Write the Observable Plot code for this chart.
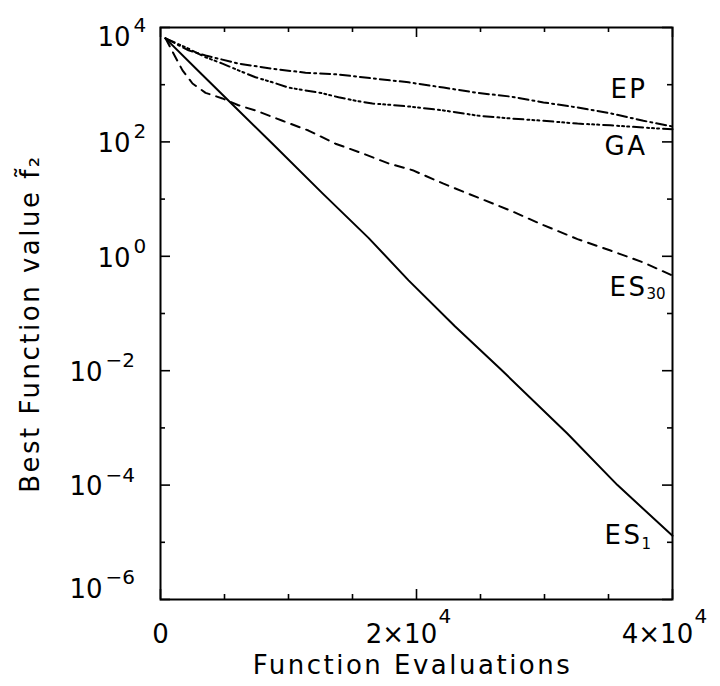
<!DOCTYPE html>
<html><head><meta charset="utf-8">
<script src="https://cdn.jsdelivr.net/npm/d3@7"></script>
<script src="https://cdn.jsdelivr.net/npm/@observablehq/plot@0.6"></script>
<style>
html,body{margin:0;padding:0;background:#fff;}
#chart svg{display:block;}
#chart svg g[aria-label="text"] text{letter-spacing:2.5px;}
#chart svg g[aria-label="text"][font-size="15"] text{letter-spacing:0;}
</style></head><body><div id="chart"></div>
<script>
// ---- data ----
const es1X = [390, 3000, 5860, 8750, 12660, 16250, 19380, 23000, 26560, 31800, 35700, 40000];
const es1Y = [6460, 1700, 400, 93, 12.6, 2.1, 0.38, 0.060, 0.0107, 7.9e-4, 1.0e-4, 1.3e-5];

const es30X = [390, 1170, 1720, 2500, 3520, 4840, 6090, 7420, 9530, 11560, 13670, 15780, 17810, 19690, 22110, 24770, 27340, 29920, 32580, 35160, 37730, 40000];
const es30Y = [6460, 3020, 1780, 1050, 720, 575, 437, 355, 234, 158, 93, 63, 42, 32, 18.6, 10.7, 6.3, 3.5, 2.0, 1.26, 0.78, 0.46];

const epX = [390, 2190, 3520, 6090, 8750, 11330, 13910, 16560, 19380, 22110, 24770, 27340, 29920, 32580, 35160, 37730, 40000];
const epY = [6460, 3980, 3240, 2340, 1900, 1620, 1510, 1290, 1100, 890, 720, 620, 490, 400, 316, 234, 186];

const gaX = [390, 2190, 3520, 4840, 6090, 7420, 8750, 10000, 11330, 12660, 13910, 15230, 16560, 17810, 19380, 22110, 24770, 27340, 29920, 32580, 35160, 37730, 40000];
const gaY = [6460, 4270, 3020, 2340, 1780, 1350, 1100, 890, 794, 708, 603, 525, 468, 447, 417, 355, 288, 257, 234, 209, 195, 178, 166];

const seriesNames = ["EP", "GA", "ES30", "ES1"];
const labelMain = ["EP", "GA", "ES", "ES"];
const labelSub = ["", "", "30", "1"];

const yMajorTicks = [1e4, 1e2, 1e0, 1e-2, 1e-4, 1e-6];
const yMinorTicks = [1e3, 1e1, 1e-1, 1e-3, 1e-5];
const xMajorTicks = [0, 20000, 40000];
const xMinorTicks = [5000, 10000, 15000, 25000, 30000, 35000];

const xTitle = "Function Evaluations";
const yTitle = "Best Function value f\u0303\u2082";

// ---- build table ----
const seriesXY = {EP: [epX, epY], GA: [gaX, gaY], ES30: [es30X, es30Y], ES1: [es1X, es1Y]};
const rows = seriesNames.flatMap(name => seriesXY[name][0].map((x, i) => ({series: name, x, y: seriesXY[name][1][i]})));

// ---- styles ----
const W = 720, H = 686, mL = 160, mR = 48, mT = 27, mB = 87;
const pw = W - mL - mR, ph = H - mT - mB;
const FONT = "DejaVu Sans";
const dash = {EP: "10,4,2,4", GA: "10,4,2,3,2,3,2,4", ES30: "9,7", ES1: null};
const labelOff = {
  EP:   {dx: -25, dy: -37, sdx: 0, sdy: 0},
  GA:   {dx: -25, dy: 17, sdx: 0, sdy: 0},
  ES30: {dx: -25, dy: 12, sdx: -26, sdy: 19},
  ES1:  {dx: -30, dy: 0, sdx: -31, sdy: 8}
};
const MAJ = 10, MIN = 5;

const expText = d => { const e = Math.round(Math.log10(d)); return (e < 0 ? "\u2212" : "") + Math.abs(e); };

function yLabels(ticks, basePad, supPad, dy) {
  return [
    Plot.axisY(ticks, {anchor: "left", tickSize: 0, tickPadding: basePad, tickFormat: () => "10", fontSize: 26, fontFamily: FONT, dy, label: null}),
    Plot.axisY(ticks, {anchor: "left", tickSize: 0, tickPadding: supPad, tickFormat: expText, textAnchor: "start", fontSize: 20, fontFamily: FONT, dy: dy - 12, label: null})
  ];
}

const marks = [
  // frame
  Plot.frame({stroke: "black", strokeWidth: 2}),
  // inward ticks: left/right
  Plot.ruleY(yMajorTicks, {y: d => d, insetRight: pw - MAJ, stroke: "black", strokeWidth: 1.6}),
  Plot.ruleY(yMinorTicks, {y: d => d, insetRight: pw - MIN, stroke: "black", strokeWidth: 1.6}),
  Plot.ruleY(yMajorTicks, {y: d => d, insetLeft: pw - MAJ, stroke: "black", strokeWidth: 1.6}),
  Plot.ruleY(yMinorTicks, {y: d => d, insetLeft: pw - MIN, stroke: "black", strokeWidth: 1.6}),
  // inward ticks: bottom/top
  Plot.ruleX(xMajorTicks, {x: d => d, insetTop: ph - MAJ, stroke: "black", strokeWidth: 1.6}),
  Plot.ruleX(xMinorTicks, {x: d => d, insetTop: ph - MIN, stroke: "black", strokeWidth: 1.6}),
  Plot.ruleX(xMajorTicks, {x: d => d, insetBottom: ph - MAJ, stroke: "black", strokeWidth: 1.6}),
  Plot.ruleX(xMinorTicks, {x: d => d, insetBottom: ph - MIN, stroke: "black", strokeWidth: 1.6}),
  // y tick labels
  ...yLabels([1e4], 30, 27, 10),
  ...yLabels([1e2, 1e0], 30, 27, 2),
  ...yLabels([1e-2, 1e-4], 58, 55, 2),
  ...yLabels([1e-6], 58, 55, -10),
  // x tick labels
  Plot.axisX([0], {anchor: "bottom", tickSize: 0, tickPadding: 25, tickFormat: () => "0", fontSize: 26, fontFamily: FONT, label: null}),
  Plot.axisX([20000, 40000], {anchor: "bottom", tickSize: 0, tickPadding: 25, tickFormat: d => `${d / 10000}\u00d710`, fontSize: 26, fontFamily: FONT, dx: -15, label: null}),
  Plot.axisX([20000, 40000], {anchor: "bottom", tickSize: 0, tickPadding: 9, tickFormat: () => "4", textAnchor: "start", fontSize: 20, fontFamily: FONT, dx: 22, label: null}),
  // titles
  Plot.text([xTitle], {text: d => d, frameAnchor: "bottom", textAnchor: "middle", dy: 66, dx: -4, lineAnchor: "middle", fontSize: 26, fontFamily: FONT}),
  Plot.text([yTitle], {text: d => d, frameAnchor: "left", textAnchor: "middle", dx: -130, dy: 10, rotate: -90, lineAnchor: "middle", fontSize: 26, fontFamily: FONT}),
  // series
  ...seriesNames.map(name => Plot.line(rows.filter(r => r.series === name), {
    x: "x", y: "y", stroke: "black", strokeWidth: 2, strokeDasharray: dash[name], curve: "linear"
  })),
  // series labels
  ...seriesNames.flatMap((name, i) => {
    const last = rows.filter(r => r.series === name).at(-1);
    const o = labelOff[name];
    const out = [Plot.text([last], {x: "x", y: "y", text: () => labelMain[i], textAnchor: "end", lineAnchor: "middle", dx: o.dx, dy: o.dy, fontSize: 26, fontFamily: FONT})];
    if (labelSub[i]) out.push(Plot.text([last], {x: "x", y: "y", text: () => labelSub[i], textAnchor: "start", lineAnchor: "middle", dx: o.sdx, dy: o.sdy, fontSize: 15, fontFamily: FONT}));
    return out;
  })
];

const chart = Plot.plot({
  width: W, height: H,
  marginLeft: mL, marginRight: mR, marginTop: mT, marginBottom: mB,
  style: {fontFamily: FONT, background: "white", color: "black"},
  x: {domain: [0, 40000]},
  y: {type: "log", domain: [1e-6, 1e4]},
  marks
});
document.getElementById("chart").appendChild(chart);
</script>
</body></html>
